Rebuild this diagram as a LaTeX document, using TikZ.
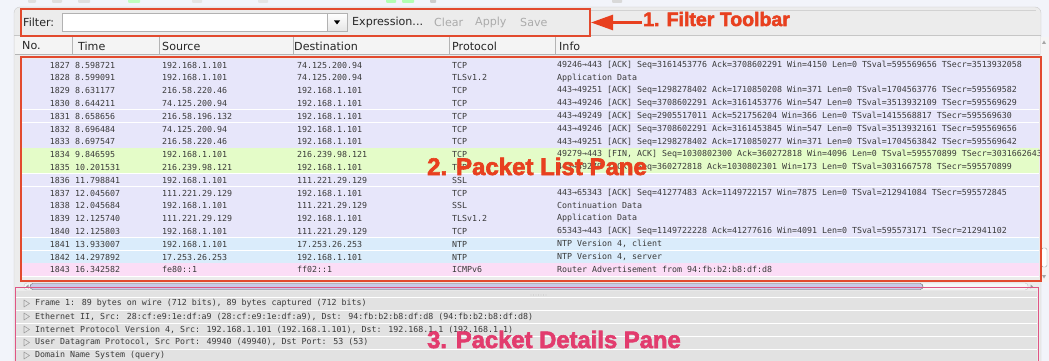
\documentclass[tikz,border=0pt]{standalone}
\usepackage{fontspec}
\setmainfont{DejaVu Sans}
\newfontfamily\monofont{DejaVu Sans Mono}
\newfontfamily\calloutfont{Liberation Sans}[BoldFeatures={FakeBold=2.6}]
\usetikzlibrary{arrows.meta}

\definecolor{outerbg}{HTML}{F2F4FA}
\definecolor{panelbg}{HTML}{ECECEC}
\definecolor{hdrbg}{HTML}{F4F4F4}
\definecolor{rowtcp}{HTML}{E7E6FA}
\definecolor{rowgreen}{HTML}{E4FCC8}
\definecolor{rowblue}{HTML}{DAECFB}
\definecolor{rowpink}{HTML}{FBDDF6}
\definecolor{detbg}{HTML}{E2E2E2}
\definecolor{callred}{HTML}{E8401F}
\definecolor{callpink}{HTML}{E23C6E}
\definecolor{boxred}{HTML}{E24A2E}
\definecolor{boxpink}{HTML}{E05585}
\definecolor{txt}{HTML}{3A3A3A}
\definecolor{dim}{HTML}{ABABAB}
\definecolor{sep}{HTML}{B4B4B4}

\begin{document}
\begin{tikzpicture}[x=1pt,y=-1pt,
  cell/.style={anchor=west,inner sep=0pt,text=txt,font=\monofont\fontsize{8.3}{9}\selectfont},
  numcell/.style={cell,anchor=east},
  hdr/.style={anchor=west,inner sep=0pt,text=black!85,font=\fontsize{11.1}{13}\selectfont},
  tool/.style={hdr},
  tooldim/.style={hdr,text=dim},
  paneframe/.style={anchor=north west,inner sep=0pt,line width=2pt},
  callout/.style={anchor=base west,inner sep=0pt}
]
\useasboundingbox (0,0) rectangle (1049,361);
\fill[outerbg] (0,0) rectangle (1049,361);

% faint toolbar icons cut off at the top edge
\foreach \ix/\iw/\ic in {28/8/gray!25,52/10/gray!25,78/12/gray!25,128/12/green!25,192/10/gray!20,
  258/10/gray!20,386/10/green!30,402/12/green!30,430/6/gray!40,612/10/gray!30}
  \fill[\ic,rounded corners=1pt] (\ix,-2) rectangle (\ix+\iw,3);

% window body
\filldraw[fill=panelbg,draw=gray!40,rounded corners=6pt] (14,7) rectangle (1041,380);

% ---------------- filter toolbar ----------------
\draw[gray!45] (14,35.5) -- (1041,35.5);
\draw[gray!35] (590,10) -- (1036,10);
\node[tool] (filterlbl) at (23,22) {Filter:};
\node[anchor=north west,inner sep=0pt,minimum width=265,minimum height=18,fill=white,draw=gray!60]
  (filterfield) at (62,13) {};
\node[anchor=north west,inner sep=0pt,minimum width=20,minimum height=18,top color=white,bottom color=gray!20,draw=gray!60]
  (dropbtn) at (327,13) {};
\fill[black] (334,20.5) -- (340,20.5) -- (337,24.5) -- cycle;
\node[tool] (exprbtn) at (352,22) {Expression...};
\node[tooldim] (clearbtn) at (434,22) {Clear};
\node[tooldim] (applybtn) at (475,22) {Apply};
\node[tooldim] (savebtn) at (520,22) {Save};

% ---------------- column header ----------------
\fill[hdrbg] (15,36) rectangle (1040,54);
\draw[sep] (15,54.5) -- (1040,54.5);
\foreach \hx in {72,159,293,449,555} \draw[sep] (\hx,37) -- (\hx,54);
\node[hdr] (hno) at (22,46) {No.};
\node[hdr] (htime) at (78,46) {Time};
\node[hdr] (hsrc) at (162,46) {Source};
\node[hdr] (hdst) at (294,46) {Destination};
\node[hdr] (hproto) at (452,46) {Protocol};
\node[hdr] (hinfo) at (559,46) {Info};

% ---------------- packet list ----------------
\foreach \rn/\rt/\rs/\rd/\rp/\ri/\rc [count=\k from 0] in {
 1827/8.598721/192.168.1.101/74.125.200.94/TCP/{49246→443 [ACK] Seq=3161453776 Ack=3708602291 Win=4150 Len=0 TSval=595569656 TSecr=3513932058}/rowtcp,
 1828/8.599091/192.168.1.101/74.125.200.94/TLSv1.2/{Application Data}/rowtcp,
 1829/8.631177/216.58.220.46/192.168.1.101/TCP/{443→49251 [ACK] Seq=1298278402 Ack=1710850208 Win=371 Len=0 TSval=1704563776 TSecr=595569582}/rowtcp,
 1830/8.644211/74.125.200.94/192.168.1.101/TCP/{443→49246 [ACK] Seq=3708602291 Ack=3161453776 Win=547 Len=0 TSval=3513932109 TSecr=595569629}/rowtcp,
 1831/8.658656/216.58.196.132/192.168.1.101/TCP/{443→49249 [ACK] Seq=2905517011 Ack=521756204 Win=366 Len=0 TSval=1415568817 TSecr=595569630}/rowtcp,
 1832/8.696484/74.125.200.94/192.168.1.101/TCP/{443→49246 [ACK] Seq=3708602291 Ack=3161453845 Win=547 Len=0 TSval=3513932161 TSecr=595569656}/rowtcp,
 1833/8.697547/216.58.220.46/192.168.1.101/TCP/{443→49251 [ACK] Seq=1298278402 Ack=1710850277 Win=371 Len=0 TSval=1704563842 TSecr=595569642}/rowtcp,
 1834/9.846595/192.168.1.101/216.239.98.121/TCP/{49279→443 [FIN, ACK] Seq=1030802300 Ack=360272818 Win=4096 Len=0 TSval=595570899 TSecr=3031662643}/rowgreen,
 1835/10.201531/216.239.98.121/192.168.1.101/TCP/{443→49279 [ACK] Seq=360272818 Ack=1030802301 Win=173 Len=0 TSval=3031667578 TSecr=595570899}/rowgreen,
 1836/11.798841/192.168.1.101/111.221.29.129/SSL/{}/rowtcp,
 1837/12.045607/111.221.29.129/192.168.1.101/TCP/{443→65343 [ACK] Seq=41277483 Ack=1149722157 Win=7875 Len=0 TSval=212941084 TSecr=595572845}/rowtcp,
 1838/12.045684/192.168.1.101/111.221.29.129/SSL/{Continuation Data}/rowtcp,
 1839/12.125740/111.221.29.129/192.168.1.101/TLSv1.2/{Application Data}/rowtcp,
 1840/12.125803/192.168.1.101/111.221.29.129/TCP/{65343→443 [ACK] Seq=1149722228 Ack=41277616 Win=4091 Len=0 TSval=595573171 TSecr=212941102}/rowtcp,
 1841/13.933007/192.168.1.101/17.253.26.253/NTP/{NTP Version 4, client}/rowblue,
 1842/14.297892/17.253.26.253/192.168.1.101/NTP/{NTP Version 4, server}/rowblue,
 1843/16.342582/fe80::1/ff02::1/ICMPv6/{Router Advertisement from 94:fb:b2:b8:df:d8}/rowpink}
{
  \pgfmathsetmacro\yc{65+12.8*\k}
  \fill[\rc] (21,\yc-6.4) rectangle (1039,\yc+6.4);
  \draw[white,line width=0.7pt] (21,\yc+6.4) -- (1039,\yc+6.4);
  \node[numcell] (no\rn) at (70,\yc) {\rn};
  \node[cell] (time\rn) at (75,\yc) {\rt};
  \node[cell] (src\rn) at (162,\yc) {\rs};
  \node[cell] (dst\rn) at (297,\yc) {\rd};
  \node[cell] (proto\rn) at (452,\yc) {\rp};
  \node[cell] (info\rn) at (557,\yc) {\ri};
}

% vertical scrollbar of the list
\fill[gray!8] (1041,37) rectangle (1049,282);
\fill[gray!70] (1042,44) -- (1046,44) -- (1044,40.5) -- cycle;
\filldraw[fill=white,draw=gray!70,rounded corners=1.5pt] (1041.5,248) rectangle (1047,267);
\fill[gray!70] (1042,275) -- (1046,275) -- (1044,278.5) -- cycle;

% horizontal scrollbar of the list
\filldraw[fill=gray!6,draw=gray!45,rounded corners=3pt] (24,283) rectangle (1028,290);
\filldraw[fill=gray!60!blue!30,draw=gray!75!black,rounded corners=3pt] (30,283.5) rectangle (923,289.5);
\fill[gray!80] (26,286.5) -- (28.5,284.5) -- (28.5,288.5) -- cycle;
\fill[gray!80] (1033,286.5) -- (1030.5,284.5) -- (1030.5,288.5) -- cycle;

% list frame
\node[paneframe,draw=boxred,minimum width=1020,minimum height=224] (listbox) at (20,56) {};

% ---------------- packet details ----------------
\fill[detbg] (16,291) rectangle (1037,361);
\foreach \gx in {531,533.5,536,538.5,541,543.5,546} \fill[gray!70] (\gx,295) circle (0.45);
\foreach \sy in {297,310,323,336,349} \draw[white,line width=0.8pt] (16,\sy) -- (1037,\sy);
\foreach \dtxt [count=\k from 0] in {
  {Frame 1: 89 bytes on wire (712 bits), 89 bytes captured (712 bits)},
  {Ethernet II, Src: 28:cf:e9:1e:df:a9 (28:cf:e9:1e:df:a9), Dst: 94:fb:b2:b8:df:d8 (94:fb:b2:b8:df:d8)},
  {Internet Protocol Version 4, Src: 192.168.1.101 (192.168.1.101), Dst: 192.168.1.1 (192.168.1.1)},
  {User Datagram Protocol, Src Port: 49940 (49940), Dst Port: 53 (53)},
  {Domain Name System (query)}}
{
  \pgfmathsetmacro\yd{303.5+13*\k}
  \draw[gray!75,line width=0.6pt,line join=round] (24,\yd-3.5) -- (29.5,\yd) -- (24,\yd+3.5) -- cycle;
  \node[cell] (det\k) at (35,\yd) {\dtxt};
}
\node[anchor=north west,inner sep=0pt,minimum width=1023,minimum height=90,draw=boxpink,line width=1.3pt]
  (detailsbox) at (15,286.5) {};

% filter frame
\node[paneframe,draw=boxred,minimum width=569,minimum height=27] (filterbox) at (20,8) {};

% ---------------- callouts ----------------
\node[callout,text=callred,font=\calloutfont\bfseries\fontsize{19.5}{22}\selectfont]
  (lab1) at (643,26) {1. Filter Toolbar};
\draw[callred,line width=2.6pt,-{Triangle[length=22pt,width=15pt]}]
  ([xshift=-1pt]lab1.west |- filterbox.east) -- (filterbox.east);
\node[callout,text=callred,font=\calloutfont\bfseries\fontsize{24}{28}\selectfont]
  (lab2) at (427,175) {2. Packet List Pane};
\node[callout,text=callpink,font=\calloutfont\bfseries\fontsize{23.8}{28}\selectfont]
  (lab3) at (427,348) {3. Packet Details Pane};
\end{tikzpicture}
\end{document}
